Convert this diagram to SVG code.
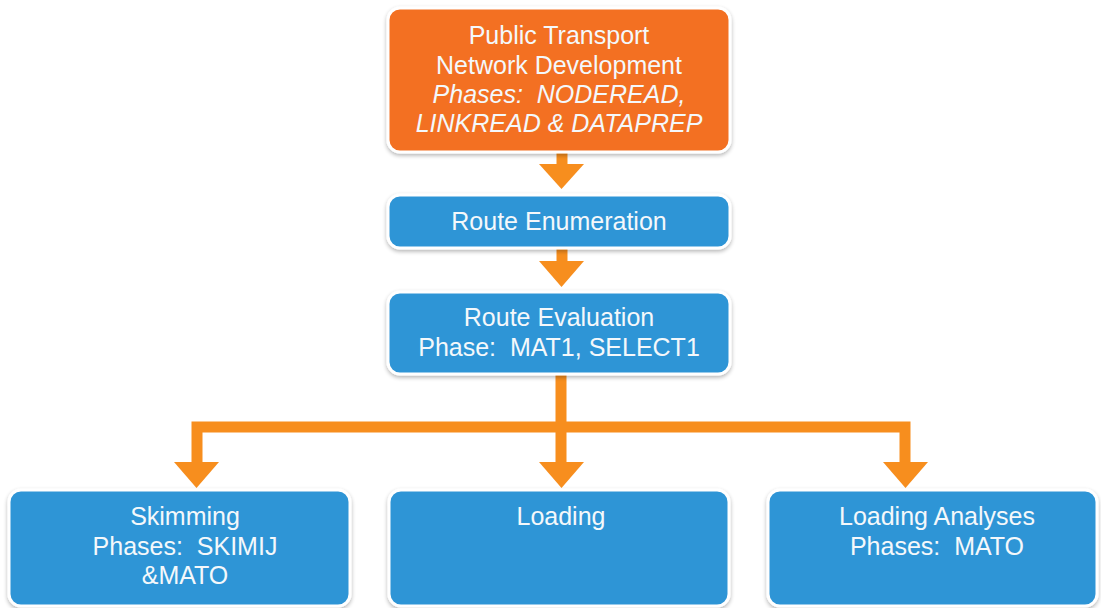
<svg xmlns="http://www.w3.org/2000/svg" width="1101" height="608" viewBox="0 0 1101 608">
<defs>
<filter id="sh" x="-5%" y="-10%" width="110%" height="125%">
<feGaussianBlur in="SourceAlpha" stdDeviation="2"/>
<feOffset dx="0" dy="2" result="b"/>
<feComponentTransfer><feFuncA type="linear" slope="0.3"/></feComponentTransfer>
<feMerge><feMergeNode/><feMergeNode in="SourceGraphic"/></feMerge>
</filter>
</defs>
<style>
.box{stroke:#fff;stroke-width:3;filter:url(#sh)}
.orange{fill:#F36F21}
.blue{fill:#2F95D6}
text{font-family:"Liberation Sans",Arial,sans-serif;font-size:25px;fill:#F4F8FB;text-anchor:middle;white-space:pre}
.it{font-style:italic}
.conn{fill:none;stroke:#F78E1E;stroke-width:11}
.head{fill:#F78E1E}
</style>
<rect width="1101" height="608" fill="#fff"/>
<g id="connectors">
<path class="conn" d="M562,152 V166"/>
<path class="head" d="M539,164 H584 L561.5,189 Z"/>
<path class="conn" d="M562,248 V263"/>
<path class="head" d="M539,261 H584 L561.5,287 Z"/>
<path class="conn" d="M561,374 V464"/>
<path class="conn" d="M197,464 V427 H905 V464"/>
<path class="head" d="M174,462 H219 L196.5,488 Z"/>
<path class="head" d="M539,462 H584 L561.5,488 Z"/>
<path class="head" d="M883,462 H928 L905.5,488 Z"/>
</g>
<g id="n-network">
<rect class="box orange" x="388" y="8" width="342" height="144" rx="12"/>
<text x="559" y="44">Public Transport</text>
<text x="559" y="74">Network Development</text>
<text x="559" y="103" class="it" xml:space="preserve">Phases:  NODEREAD,</text>
<text x="559" y="132" class="it">LINKREAD &amp; DATAPREP</text>
</g>
<g id="n-enum">
<rect class="box blue" x="388" y="195" width="342" height="53" rx="12"/>
<text x="559" y="230">Route Enumeration</text>
</g>
<g id="n-eval">
<rect class="box blue" x="388" y="292" width="342" height="82" rx="12"/>
<text x="559" y="326">Route Evaluation</text>
<text x="559" y="356" xml:space="preserve">Phase:  MAT1, SELECT1</text>
</g>
<g id="n-skim">
<rect class="box blue" x="9" y="490" width="341" height="116" rx="12"/>
<text x="185" y="525">Skimming</text>
<text x="185" y="555" xml:space="preserve">Phases:  SKIMIJ</text>
<text x="185" y="584">&amp;MATO</text>
</g>
<g id="n-load">
<rect class="box blue" x="389" y="490" width="340" height="116" rx="12"/>
<text x="561" y="525">Loading</text>
</g>
<g id="n-analyses">
<rect class="box blue" x="768" y="490" width="329" height="116" rx="12"/>
<text x="937" y="525">Loading Analyses</text>
<text x="937" y="555" xml:space="preserve">Phases:  MATO</text>
</g>
</svg>
